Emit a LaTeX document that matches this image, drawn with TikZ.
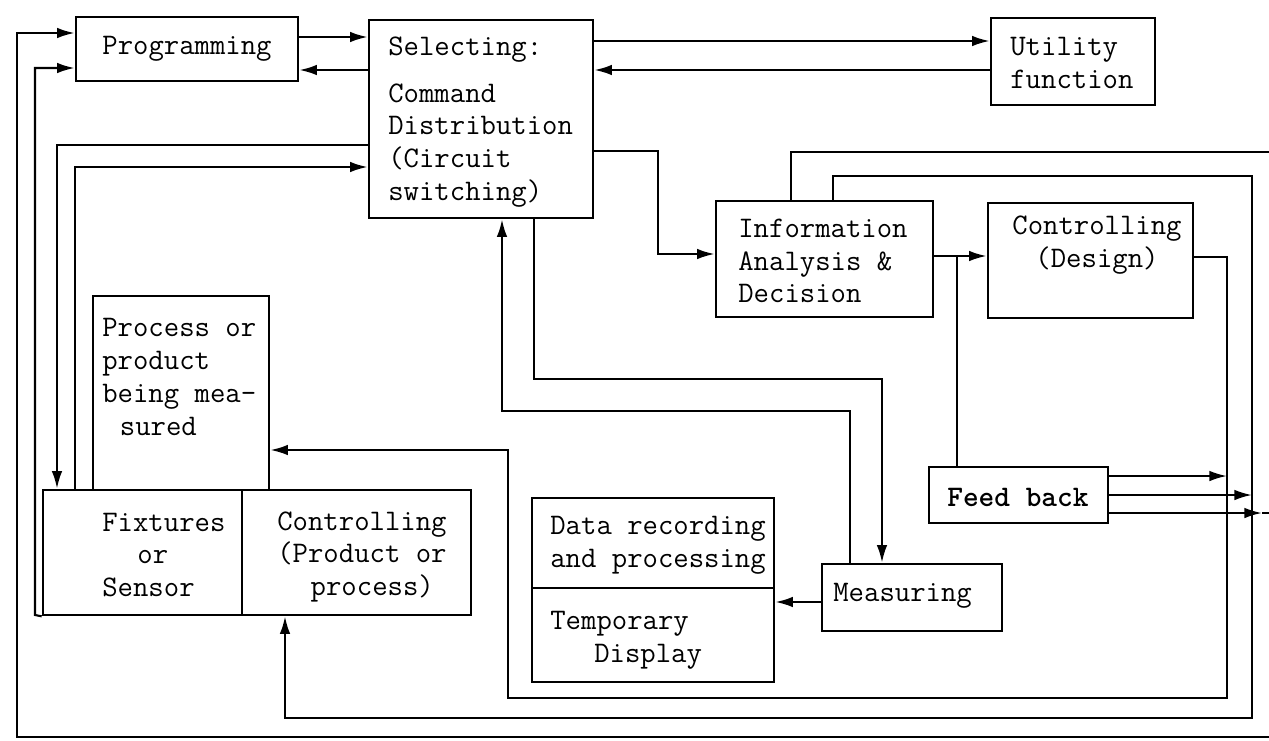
\documentclass[tikz,border=0pt]{standalone}
\usepackage{fontspec}
\usetikzlibrary{arrows.meta,fit}
\begin{document}
\begin{tikzpicture}[x=0.02cm,y=-0.02cm,
  box/.style={draw, line width=1.5pt, inner sep=0pt},
  txt/.style={font=\ttfamily\fontsize{17}{18.7}\selectfont, inner sep=0pt, align=left, anchor=west},
  boldtxt/.style={txt, font=\ttfamily\bfseries\fontsize{17}{18.7}\selectfont},
  wire/.style={line width=1.2pt},
  arr/.style={wire, -{Latex[length=10pt,width=6pt]}},
]
\useasboundingbox (0,0) rectangle (1269,741);

% boxes
\node[box, fit={(76,17)(298,81)}] (prog) {};
\node[box, fit={(369,20)(593,218)}] (sel) {};
\node[box, fit={(991,18)(1155,105)}] (util) {};
\node[box, fit={(716,201)(933,317)}] (info) {};
\node[box, fit={(988,203)(1193,318)}] (ctrl) {};
\node[box, fit={(93,296)(269,490)}] (proc) {};
\node[box, fit={(43,490)(242,615)}] (fix) {};
\node[box, fit={(242,490)(471,615)}] (cprod) {};
\node[box, fit={(532,498)(774,588)}] (data) {};
\node[box, fit={(532,588)(774,682)}] (temp) {};
\node[box, fit={(822,564)(1002,631)}] (meas) {};
\node[box, fit={(929,467)(1108,523)}] (fb) {};

% texts
\node[txt, anchor=center] (progt) at (187,49) {Programming};
\node[txt] (selt) at (388,122) {Selecting:\\[8pt]Command\\Distribution\\(Circuit\\switching)};
\node[txt] (utilt) at (1010,63) {Utility\\function};
\node[txt] (infot) at (738,261) {Information\\Analysis \&\\Decision};
\node[txt, align=center, anchor=center] (ctrlt) at (1097,245) {Controlling\\(Design)};
\node[txt] (proct) at (102,377) {Process or\\product\\being mea-\\\hspace*{10pt}sured};
\node[txt] (fixt) at (102,555) {Fixtures\\\hspace*{20pt}or\\Sensor};
\node[txt] (cprodt) at (277,557) {Controlling\\(Product or\\\hspace*{19pt}process)};
\node[txt] (datat) at (550,545) {Data recording\\and processing};
\node[txt] (tempt) at (550,640) {Temporary\\\hspace*{25pt}Display};
\node[txt] (meast) at (833,596) {Measuring};
\node[boldtxt] (fbt) at (947,497) {Feed back};

% helper coordinates
\coordinate (j1) at (957,256);
\coordinate (e3) at (1262,513);
\coordinate (e3b) at (1280,513);

% connectors top
\draw[arr] (prog.east |- 0,37) -- (sel.west |- 0,37);
\draw[arr] (sel.west |- 0,70) -- (prog.east |- 0,70);
\draw[arr] (sel.east |- 0,41) -- (util.west |- 0,41);
\draw[arr] (util.west |- 0,70) -- (sel.east |- 0,70);
\draw[arr] (sel.east |- 0,151) -| (658,254) -- (info.west |- 0,254);
\draw[arr] (info.east |- 0,256) -- (ctrl.west |- 0,256);
\draw[wire] (fb.north -| j1) -- (j1);

% loops from information box
\draw[arr] (info.north -| 791,0) |- (1280,152) |- (17,737) |- (prog.west |- 0,33);
\draw[arr] (info.north -| 833,0) |- (1252,176) |- (285,718) -- (cprod.south -| 285,0);

% controlling (design) to process
\draw[arr] (ctrl.east |- 0,257) -| (1227,698) -| (508,450) -- (proc.east |- 0,450);

% feed back outputs
\draw[arr] (fb.east |- 0,476) -- (1227,476);
\draw[arr] (fb.east |- 0,495) -- (1252,495);
\draw[arr] (fb.east |- 0,513) -- (e3);
\draw[wire] (e3) -- (e3b);

% left side
\draw[arr] (fix.south west) -- (35,615) |- (prog.west |- 0,68);
\draw[arr] (sel.west |- 0,145) -| (fix.north -| 57,0);
\draw[arr] (fix.north -| 75,0) |- (sel.west |- 0,167);

% selecting <-> measuring
\draw[arr] (sel.south -| 534,0) |- (882,379) -- (meas.north -| 882,0);
\draw[arr] (meas.north -| 850,0) |- (502,411) -- (sel.south -| 502,0);
\draw[arr] (meas.west |- 0,602) -- (temp.east |- 0,602);
\end{tikzpicture}
\end{document}
